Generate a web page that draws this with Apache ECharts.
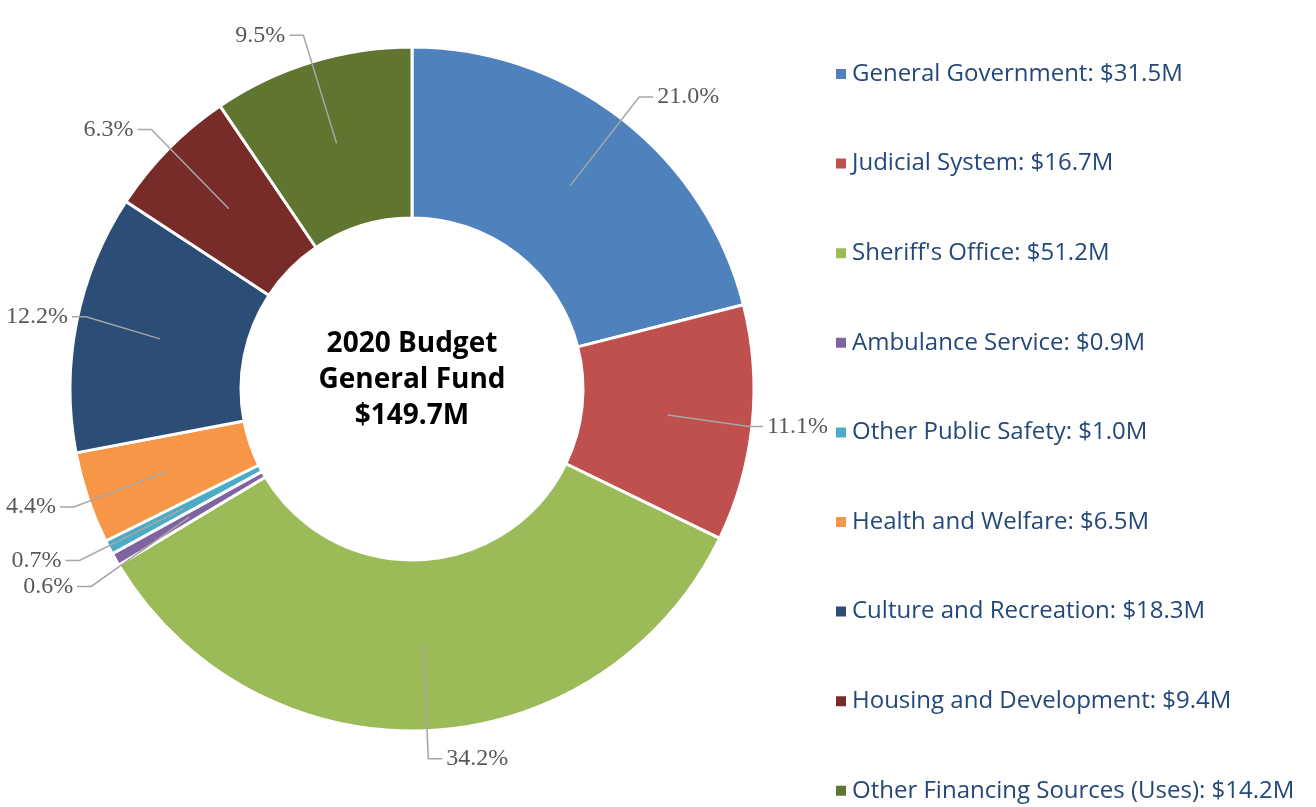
<!DOCTYPE html>
<html>
<head>
<meta charset="utf-8">
<script src="https://cdn.jsdelivr.net/npm/echarts@6/dist/echarts.min.js"></script>
<style>
html,body{margin:0;padding:0;background:#fff;}
#chart{width:1316px;height:807px;}
</style>
</head>
<body>
<div id="chart"></div>
<script>
const categories = ["General Government","Judicial System","Sheriff's Office","Ambulance Service","Other Public Safety","Health and Welfare","Culture and Recreation","Housing and Development","Other Financing Sources (Uses)"];
const values = [31.5, 16.7, 51.2, 0.9, 1.0, 6.5, 18.3, 9.4, 14.2];
const percentLabels = ["21.0%","11.1%","34.2%","0.6%","0.7%","4.4%","12.2%","6.3%","9.5%"];
const colors = ["#4F81BD","#C0504D","#9BBB59","#8064A2","#4BACC6","#F79646","#2C4D75","#772C2A","#5F7530"];
const centerTitle = ["2020 Budget","General Fund","$149.7M"];

const CX = 412, CY = 389, R_IN = 171, R_OUT = 342;
const R_MID = Math.round((R_IN + R_OUT) / 2);
const LABEL_MIN_X = 6, LABEL_MAX_X = 828, LABEL_MIN_Y = 4;

const legendNames = categories.map((c,i)=> c + ": $" + values[i].toFixed(1) + "M");
const chart = echarts.init(document.getElementById('chart'));
chart.setOption({
  animation:false,
  color: colors,
  legend:{
    data: legendNames,
    orient:'vertical', left:834, top:62, height:780, padding:0,
    itemWidth:12, itemHeight:12, itemGap:65.6, icon:'rect',
    textStyle:{fontFamily:'Open Sans', fontSize:24, color:'#24487A'},
    selectedMode:false
  },
  graphic:[{
    type:'text', x:CX, y:380,
    style:{text: centerTitle.join('\n'), textAlign:'center', textVerticalAlign:'middle', fontFamily:'Open Sans', fontWeight:'bold', fontSize:28, lineHeight:36, fill:'#000'}
  }],
  series:[{
    type:'pie', center:[CX,CY], radius:[R_IN,R_OUT], z:2,
    startAngle:90, clockwise:true,
    itemStyle:{borderColor:'#fff', borderWidth:3},
    label:{show:false}, labelLine:{show:false},
    emphasis:{disabled:true},
    data: legendNames.map((n,i)=>({name:n, value:values[i]}))
  },{
    // invisible ring carrying the data labels; leader lines start mid-ring
    type:'pie', center:[CX,CY], radius:[R_IN,R_MID], z:5,
    startAngle:90, clockwise:true, silent:true,
    itemStyle:{color:'rgba(0,0,0,0)', borderWidth:0},
    emphasis:{disabled:true},
    label:{show:true, position:'outside', overflow:'none', fontFamily:'Liberation Serif', fontSize:24, color:'#595959', opacity:1, distanceToLabelLine:4},
    labelLine:{show:true, length:R_OUT - R_MID + 28, length2:14, lineStyle:{color:'#A6A6A6', width:1.5, opacity:1}},
    labelLayout: function(params){
      const r = params.labelRect;
      const pts = params.labelLinePoints;
      let dx = 0, dy = 0;
      if (r.x < LABEL_MIN_X) dx = LABEL_MIN_X - r.x;
      if (r.x + r.width > LABEL_MAX_X) dx = LABEL_MAX_X - (r.x + r.width);
      if (r.y < LABEL_MIN_Y) dy = LABEL_MIN_Y - r.y;
      if (!(dx || dy)) return {};
      const out = {dx: dx, dy: dy};
      if (pts) out.labelLinePoints = [pts[0], [pts[1][0]+dx, pts[1][1]+dy], [pts[2][0]+dx, pts[2][1]+dy]];
      return out;
    },
    data: legendNames.map((n,i)=>({name:n, value:values[i], label:{formatter: percentLabels[i]}}))
  }]
});
</script>
</body>
</html>
